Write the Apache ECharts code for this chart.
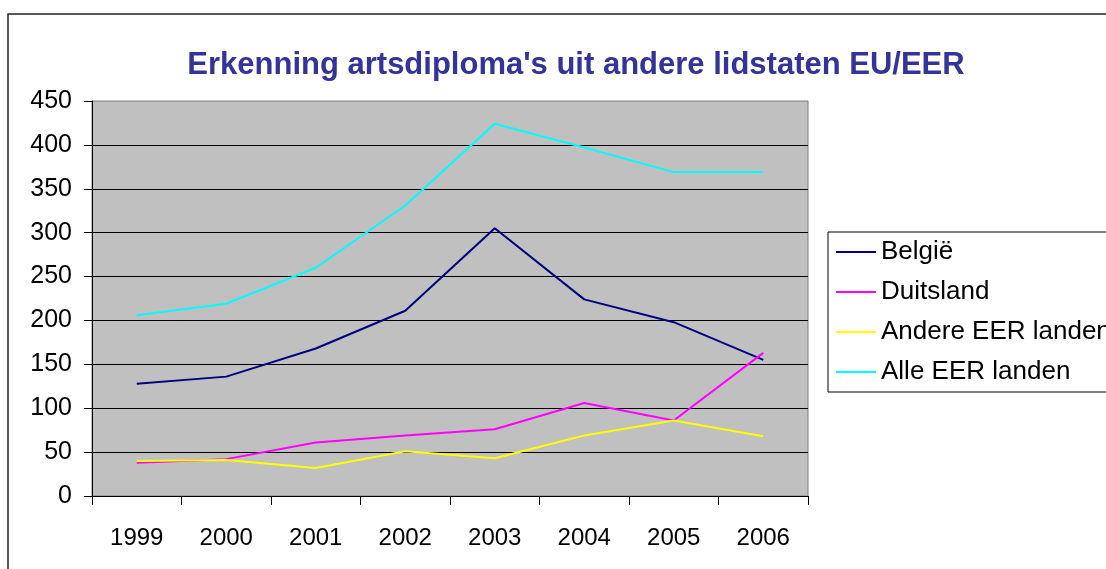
<!DOCTYPE html>
<html>
<head>
<meta charset="utf-8">
<title>Erkenning artsdiploma's</title>
<script src="https://cdn.jsdelivr.net/npm/echarts@6/dist/echarts.min.js"></script>
<style>
    html, body { margin: 0; padding: 0; background: #fff; }
    #chart { width: 1106px; height: 569px; }
</style>
</head>
<body>
<div id="chart"></div>
<script>
// Data
const years = ['1999', '2000', '2001', '2002', '2003', '2004', '2005', '2006'];
const belgie = [128, 136, 168, 211, 305, 224, 198, 155];
const duitsland = [38, 42, 61, 69, 76, 106, 86, 163];
const andereEER = [40, 41, 32, 51, 43, 69, 86, 68];
const alleEER = [206, 219, 260, 331, 424, 397, 369, 369];

const seriesNames = ['België', 'Duitsland', 'Andere EER landen', 'Alle EER landen'];
const seriesColors = ['#000080', '#ff00ff', '#ffff00', '#00ffff'];
const seriesData = [belgie, duitsland, andereEER, alleEER];

const font = '"Liberation Sans", Arial, sans-serif';

const chart = echarts.init(document.getElementById('chart'));
chart.setOption({
    animation: false,
    backgroundColor: '#fff',
    graphic: [{
        // outer chart frame, runs off the right and bottom edges
        type: 'rect',
        shape: { x: 8, y: 14, width: 1200, height: 700 },
        style: { fill: 'none', stroke: '#222', lineWidth: 1.5 },
        z: -1
    }],
    title: {
        text: "Erkenning artsdiploma's uit andere lidstaten EU/EER",
        left: 571,
        textAlign: 'center',
        top: 45,
        textStyle: { fontFamily: font, fontSize: 31, fontWeight: 'bold', color: '#333399' }
    },
    legend: {
        orient: 'vertical',
        left: 828,
        top: 232,
        padding: [0, 60, 0, 8],
        itemGap: 0,
        itemWidth: 40,
        itemHeight: 2,
        icon: 'rect',
        borderColor: '#000',
        borderWidth: 1,
        backgroundColor: '#fff',
        textStyle: { fontFamily: font, fontSize: 26, color: '#000', lineHeight: 40 },
        data: seriesNames
    },
    grid: {
        left: 92, top: 101, right: 298, bottom: 73,
        show: true,
        backgroundColor: '#c0c0c0',
        borderColor: '#808080',
        borderWidth: 1
    },
    xAxis: {
        type: 'category',
        data: years,
        boundaryGap: true,
        axisLine: { lineStyle: { color: '#000', width: 1 } },
        axisTick: { show: true, length: 9, lineStyle: { color: '#000' } },
        axisLabel: { margin: 30, fontFamily: font, fontSize: 24, color: '#000' }
    },
    yAxis: {
        type: 'value',
        min: 0, max: 450, interval: 50,
        axisLine: { show: true, lineStyle: { color: '#000', width: 1 } },
        axisTick: { show: true, length: 8, lineStyle: { color: '#000' } },
        axisLabel: { margin: 20, fontFamily: font, fontSize: 25, color: '#000' },
        splitLine: { show: true, showMaxLine: false, lineStyle: { color: '#000', width: 1 } }
    },
    series: seriesData.map((d, i) => ({
        name: seriesNames[i],
        type: 'line',
        data: d,
        symbol: 'none',
        color: seriesColors[i],
        lineStyle: { width: 2, color: seriesColors[i] }
    }))
});
</script>
</body>
</html>
